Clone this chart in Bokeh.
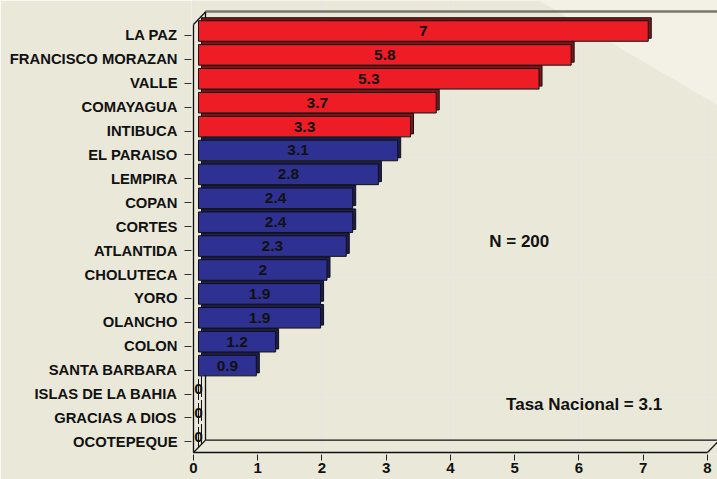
from bokeh.plotting import figure
from bokeh.models import Range1d, LinearAxis, FixedTicker, ColumnDataSource, Label
from bokeh.embed import file_html
from bokeh.resources import INLINE
from bokeh.core.properties import value

# ---------------- data ----------------
departments = ["LA PAZ", "FRANCISCO MORAZAN", "VALLE", "COMAYAGUA", "INTIBUCA",
               "EL PARAISO", "LEMPIRA", "COPAN", "CORTES", "ATLANTIDA",
               "CHOLUTECA", "YORO", "OLANCHO", "COLON", "SANTA BARBARA",
               "ISLAS DE LA BAHIA", "GRACIAS A DIOS", "OCOTEPEQUE"]
rates = [7, 5.8, 5.3, 3.7, 3.3, 3.1, 2.8, 2.4, 2.4, 2.3, 2, 1.9, 1.9, 1.2, 0.9, 0, 0, 0]
national_rate = 3.1
n_cases = 200
x_ticks = [0, 1, 2, 3, 4, 5, 6, 7, 8]

# ---------------- styling ----------------
FONT = "Liberation Sans"
BG = "#EAE8D8"
BG_LIGHT = "#F3F1E6"
RED, RED_DARK = "#EE1D25", "#7E1518"
BLUE, BLUE_DARK = "#2E3192", "#1A1C55"

n = len(departments)
idx = list(range(n))
front_cols = [RED if r > national_rate else BLUE for r in rates]
depth_cols = [RED_DARK if r > national_rate else BLUE_DARK for r in rates]

src = ColumnDataSource(dict(
    y=idx, right=rates, mid=[r / 2 for r in rates],
    label=[f"{r:g}" for r in rates],
    front=front_cols, depth=depth_cols))

# front plane: x 0 -> px 193, 64.25 px/unit ; rows at px 35 + 23.9*i
p = figure(width=717, height=479,
           x_range=Range1d(-0.0311, 8.156), y_range=Range1d(17.531, -1.464),
           output_backend="svg", toolbar_location=None,
           x_axis_location=None, y_axis_location=None,
           min_border_left=191, min_border_right=0,
           min_border_top=0, min_border_bottom=25)
# bars sit half-way in depth: shifted right/up against the front plane
p.extra_x_ranges = {"xbar": Range1d(-0.109, 8.078), "xdepth": Range1d(-0.1556, 8.031)}
p.extra_y_ranges = {"ybar": Range1d(17.720, -1.276), "ydepth": Range1d(17.845, -1.151)}

p.background_fill_color = BG
p.border_fill_color = BG
p.outline_line_color = None

# light diagonal area at top right
p.patch(x=[5.29, 8.3, 8.3], y=[-1.6, -1.6, 3.14], fill_color=BG_LIGHT,
        line_color=None)

# ---------------- 3D walls ----------------
X0, X8 = x_ticks[0], x_ticks[-1]
XR = 8.3
DX, DY = 0.187, 0.52
YF_TOP, YF_BOT = -0.46, 17.448
YB_TOP, YB_BOT = -1.004, YF_BOT - DY

p.segment(x0=[DX], y0=[YB_TOP], x1=[XR], y1=[YB_TOP],
          line_color="#77776B", line_width=2.5)
p.segment(x0=[X0, X0, DX, DX, X0, X0, X8],
          y0=[YF_TOP, YF_BOT, YB_TOP, YB_BOT, YF_TOP, YF_BOT, YF_BOT],
          x1=[X0, X8, DX, XR, DX, DX, X8 + DX],
          y1=[YF_BOT, YF_BOT, YB_BOT, YB_BOT, YB_TOP + 0.02, YB_BOT, YB_BOT],
          line_color="#111111", line_width=1.3)

# ---------------- bars ----------------
p.hbar(y="y", left=0, right="right", height=0.86, source=src,
       fill_color="depth", line_color="#111111", line_width=1,
       x_range_name="xdepth", y_range_name="ydepth")
p.hbar(y="y", left=0, right="right", height=0.86, source=src,
       fill_color="front", line_color="#111111", line_width=1,
       x_range_name="xbar", y_range_name="ybar")
p.text(x="mid", y="y", text="label", source=src,
       x_range_name="xbar", y_range_name="ybar",
       text_align="center", text_baseline="middle",
       text_font=value(FONT), text_font_style="bold",
       text_font_size="15.5px", text_color="#111111")

# ---------------- axes ----------------
xaxis = LinearAxis(ticker=FixedTicker(ticks=x_ticks))
xaxis.axis_line_color = None
xaxis.major_tick_out = 6
xaxis.major_tick_in = 0
xaxis.major_tick_line_color = "#222222"
xaxis.minor_tick_line_color = None
xaxis.major_label_standoff = 2
xaxis.major_label_text_font = FONT
xaxis.major_label_text_font_style = "bold"
xaxis.major_label_text_font_size = "15px"
xaxis.major_label_text_color = "#111111"
p.add_layout(xaxis, "below")

yaxis = LinearAxis(ticker=FixedTicker(ticks=idx),
                   major_label_overrides={i: d for i, d in zip(idx, departments)})
yaxis.axis_line_color = None
yaxis.major_tick_out = 7
yaxis.major_tick_in = 0
yaxis.major_tick_line_color = "#333333"
yaxis.minor_tick_line_color = None
yaxis.major_label_standoff = 7
yaxis.major_label_text_font = FONT
yaxis.major_label_text_font_style = "bold"
yaxis.major_label_text_font_size = "14.8px"
yaxis.major_label_text_color = "#111111"
p.add_layout(yaxis, "left")

# ---------------- notes ----------------
p.add_layout(Label(x=5.07, y=8.62, text=f"N = {n_cases}",
                   text_align="center", text_baseline="middle",
                   text_font=FONT, text_font_style="bold",
                   text_font_size="17px", text_color="#111111"))
p.add_layout(Label(x=6.08, y=15.44, text=f"Tasa Nacional = {national_rate:g}",
                   text_align="center", text_baseline="middle",
                   text_font=FONT, text_font_style="bold",
                   text_font_size="17px", text_color="#111111"))

open("out.html", "w").write(file_html(p, INLINE))
